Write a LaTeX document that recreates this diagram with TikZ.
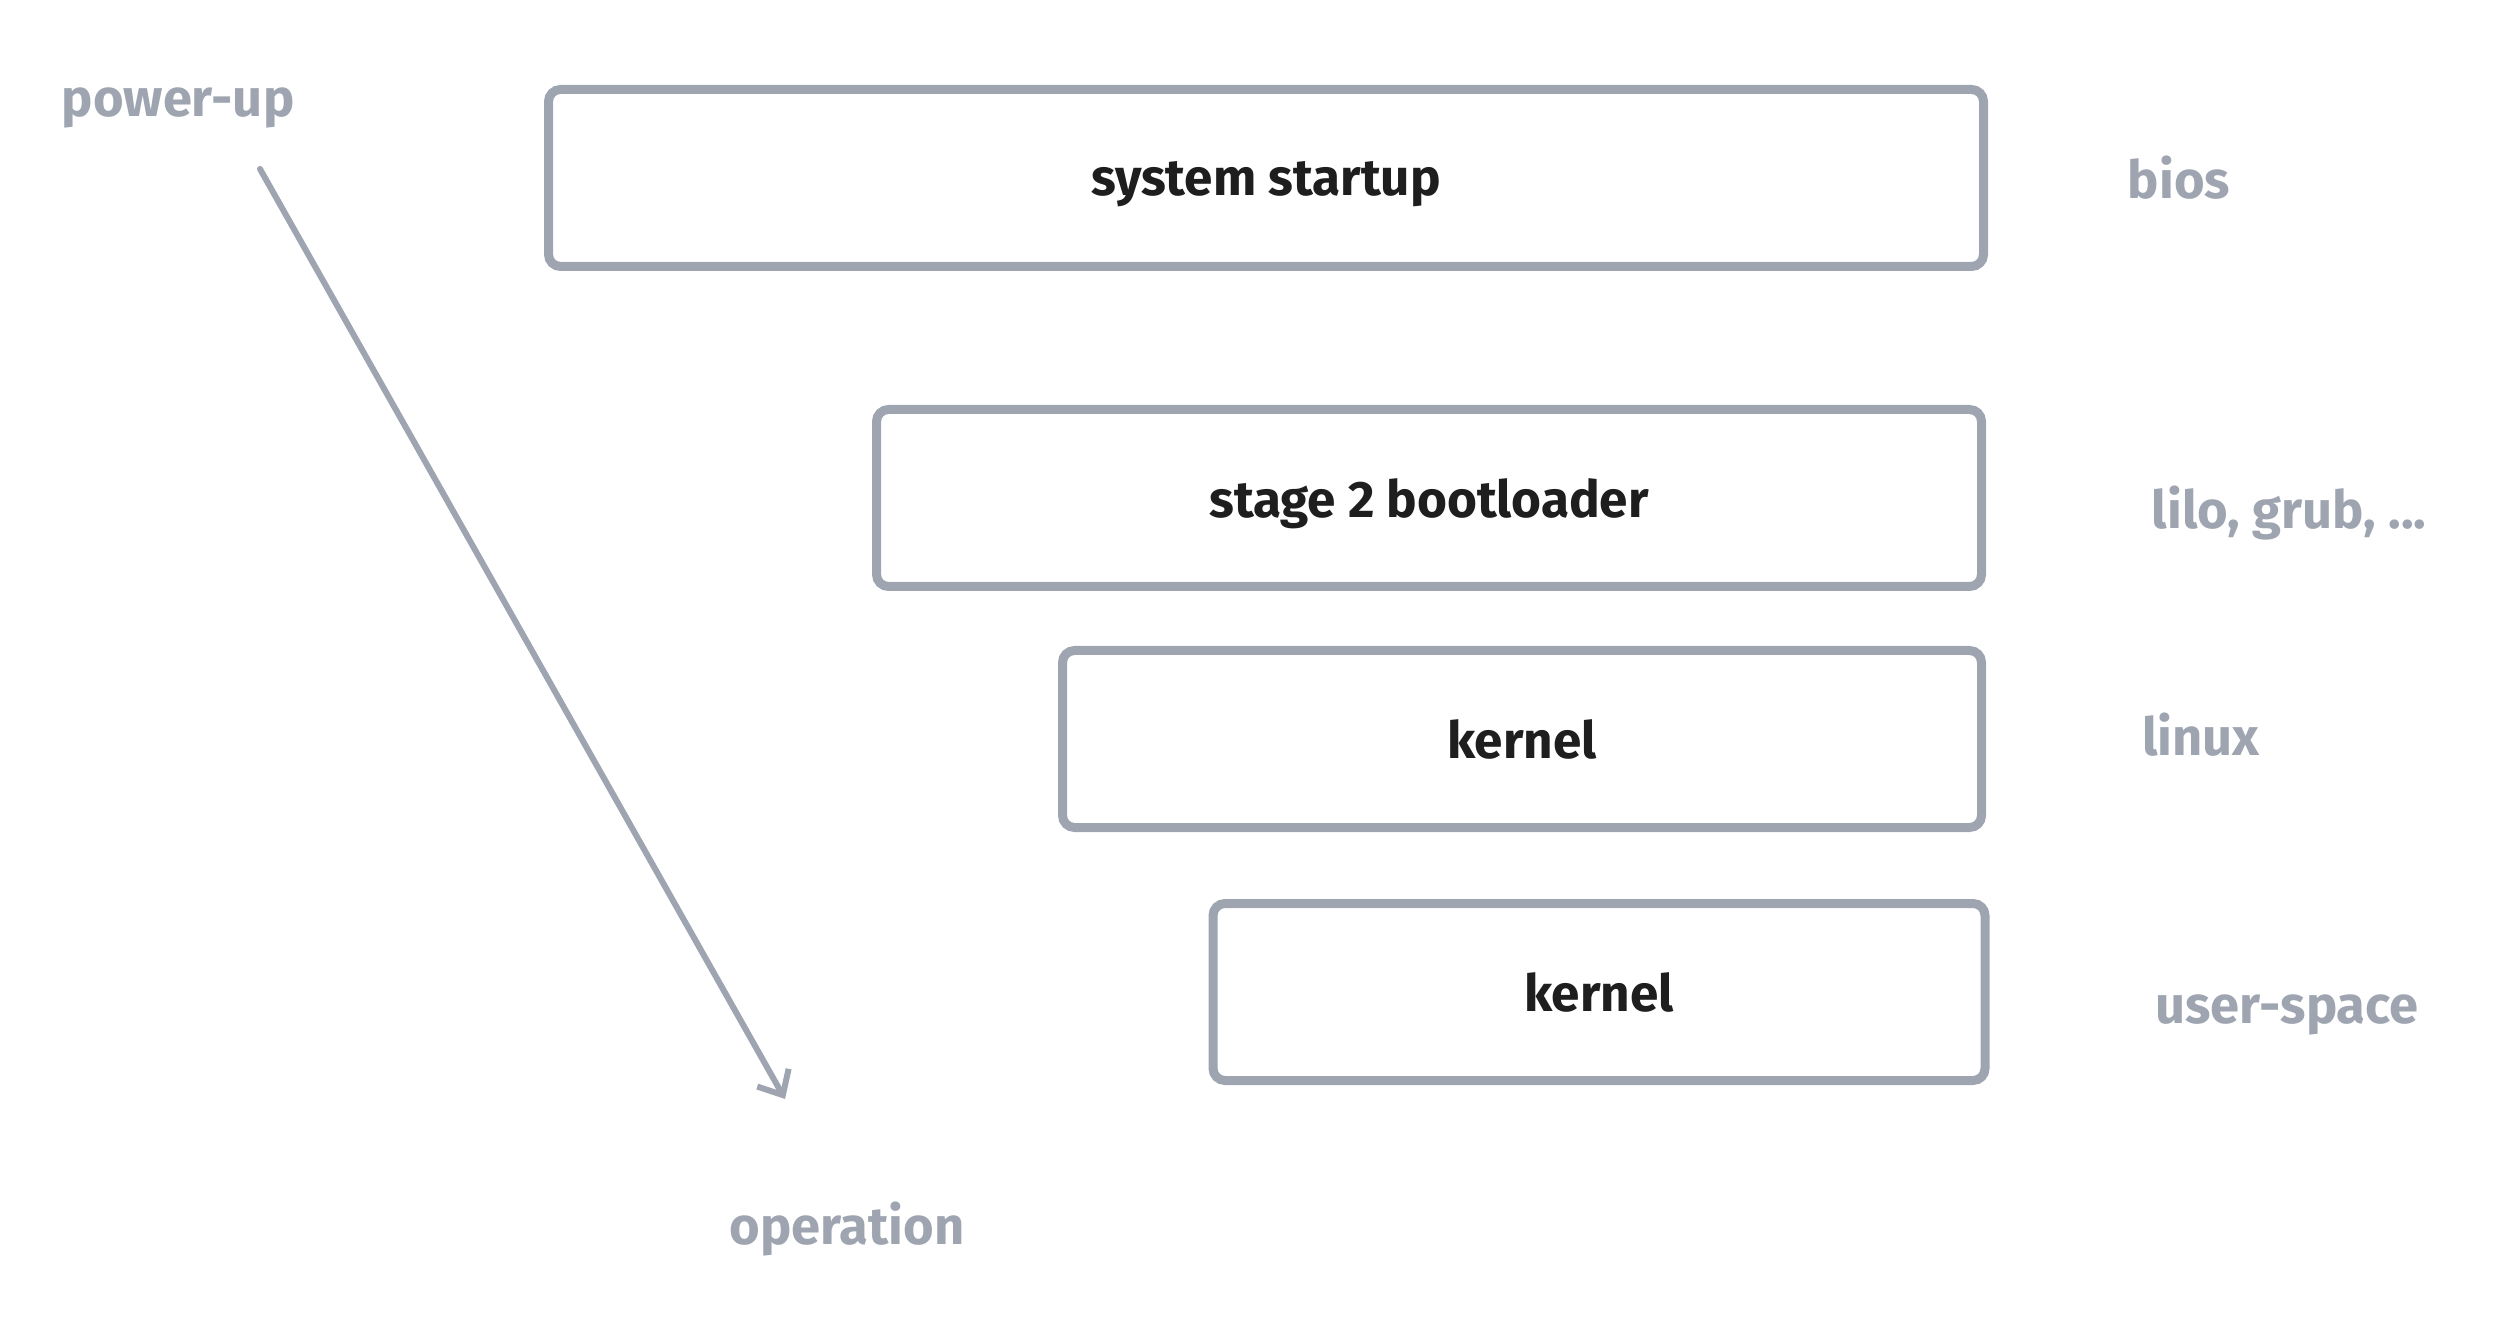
\documentclass[tikz,border=0pt]{standalone}
\usepackage{fontspec}
\setmainfont{Fira Sans}
\usepackage{xcolor}
\definecolor{linegray}{RGB}{158,165,176}
\definecolor{inkblack}{RGB}{30,30,30}
\usepackage{tikz}
\usetikzlibrary{arrows.meta}
\newcommand{\px}{0.4pt}
\newcommand{\heightlayer}{177*\px}
\tikzset{
    common/.style={draw=linegray, line width=9*\px, rounded corners=12*\px, minimum height=\heightlayer, inner sep=0pt},
    layer/.style={common, text=inkblack, text depth=0pt, font=\fontsize{20.5}{24}\selectfont\bfseries},
    note/.style={text=linegray, font=\fontsize{21}{25}\selectfont\bfseries, inner sep=0pt},
    flow/.style={draw=linegray, line width=6*\px, line cap=round, -{Straight Barb[length=20*\px, width=36*\px, line width=6*\px]}}
}

\begin{document}
\begin{tikzpicture}[x=\px, y=-\px]
    \useasboundingbox (0,0) rectangle (2497,1323);
    % layers
    \node[layer, minimum width=1435*\px] (startup) at (1266,178) {system startup};
    \node[layer, minimum width=1105*\px] (bootloader) at (1429,498) {stage 2 bootloader};
    \node[layer, minimum width=919*\px] (kernelA) at (1522,739) {kernel};
    \node[layer, minimum width=772*\px] (kernelB) at (1599,992) {kernel};
    % notes
    \node[note] (bios) at (2179,178) {bios};
    \node[note] (grub) at (2289,513) {lilo, grub, ...};
    \node[note] (linux) at (2201,735) {linux};
    \node[note] (userspace) at (2287,1015) {user-space};
    \node[note] (powerup) at (178,108) {power-up};
    \node[note] (operation) at (847,1229) {operation};
    % time arrow
    \coordinate (flowstart) at (260,169);
    \coordinate (flowend) at (785,1099);
    \draw[flow] (flowstart) -- (flowend);
\end{tikzpicture}
\end{document}
